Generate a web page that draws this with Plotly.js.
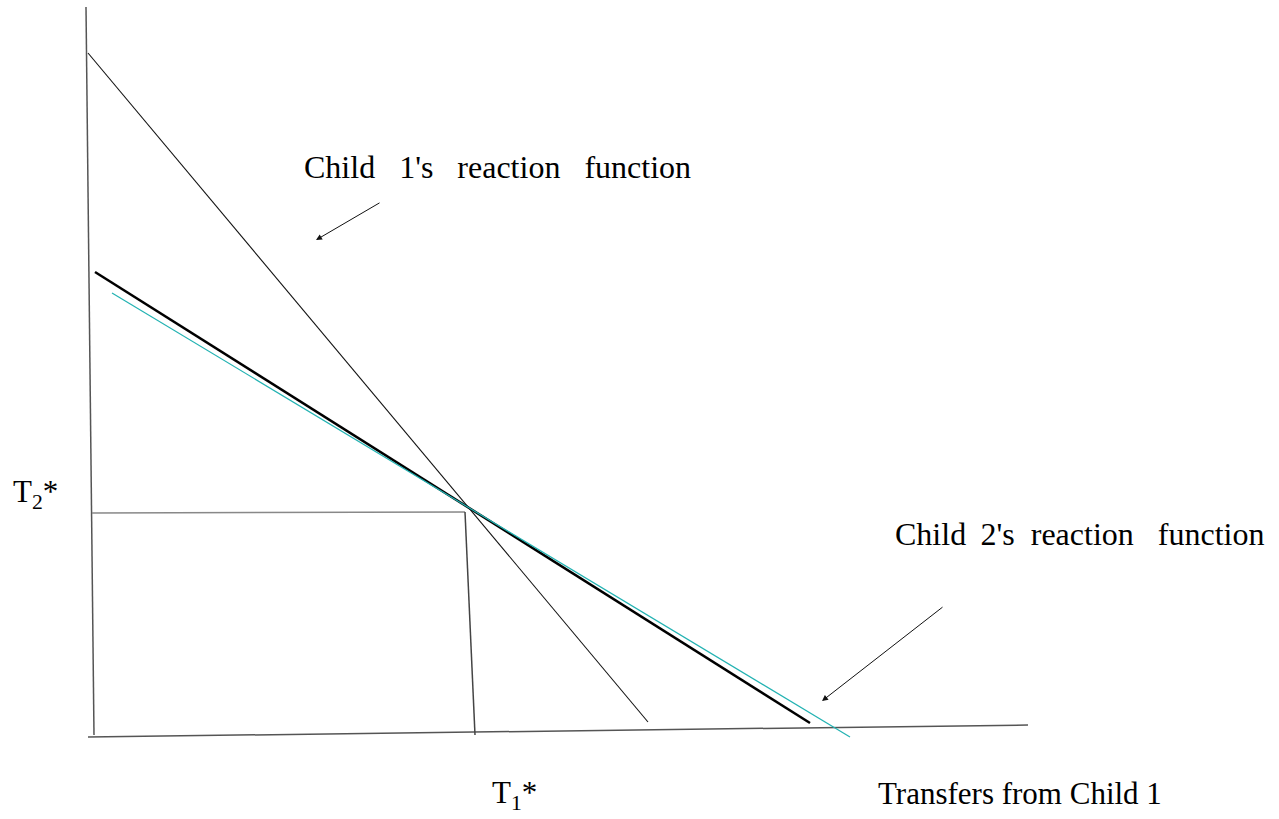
<!DOCTYPE html>
<html>
<head>
<meta charset="utf-8">
<script src="https://cdn.plot.ly/plotly-3.0.1.min.js"></script>
<style>html,body{margin:0;padding:0;background:#fff;}</style>
</head>
<body>
<div id="chart" style="width:1279px;height:819px;"></div>
<script>
// Diagram geometry (in the picture's own pixel-space coordinates)
var verticalAxisX = [86, 94];
var verticalAxisY = [7, 735];
var horizontalAxisX = [88, 1028];
var horizontalAxisY = [737, 725];
var child1X = [88, 648];
var child1Y = [53, 722];
var child2X = [95, 810];
var child2Y = [272, 723];
var child2AltX = [112, 850];
var child2AltY = [293, 737];
var t2LineX = [92, 465];
var t2LineY = [513, 512];
var t1LineX = [465, 475];
var t1LineY = [512, 735];

var labels = ["Child\u00a0\u00a0 1's\u00a0\u00a0 reaction\u00a0\u00a0 function",
              "Child\u2009 2's\u00a0 reaction\u00a0\u00a0 function",
              "T<sub>2</sub>*", "T<sub>1</sub>*", "Transfers from Child 1"];

function seg(x, y, color, width) {
  return {type: 'scatter', mode: 'lines', x: x, y: y, hoverinfo: 'skip',
          line: {color: color, width: width}, showlegend: false};
}

var traces = [
  seg(verticalAxisX, verticalAxisY, '#555', 1.5),
  seg(horizontalAxisX, horizontalAxisY, '#555', 1.5),
  seg(t2LineX, t2LineY, '#888', 1.5),
  seg(t1LineX, t1LineY, '#444', 1.5),
  seg(child1X, child1Y, '#111', 1.1),
  seg(child2X, child2Y, '#000', 2.5),
  seg(child2AltX, child2AltY, '#22b2b2', 1.2)
];

var family = 'Liberation Serif, Times New Roman, serif';
var font = {family: family, size: 31, color: '#000'};
var bigFont = {family: family, size: 32, color: '#000'};

var annotations = [
  {x: 302, y: 167, text: labels[0], xanchor: 'left', yanchor: 'middle', font: bigFont},
  {x: 893, y: 534, text: labels[1], xanchor: 'left', yanchor: 'middle', font: bigFont},
  {x: 11, y: 494, text: labels[2], xanchor: 'left', yanchor: 'middle'},
  {x: 490, y: 795, text: labels[3], xanchor: 'left', yanchor: 'middle'},
  {x: 876, y: 793, text: labels[4], xanchor: 'left', yanchor: 'middle'},
  {x: 316, y: 240, ax: 381, ay: 202, axref: 'x', ayref: 'y', text: '', showarrow: true,
   arrowhead: 2, arrowsize: 1.2, arrowwidth: 1, arrowcolor: '#111'},
  {x: 822, y: 701, ax: 944, ay: 606, axref: 'x', ayref: 'y', text: '', showarrow: true,
   arrowhead: 2, arrowsize: 1.2, arrowwidth: 1, arrowcolor: '#111'}
].map(function(a){ a.xref = 'x'; a.yref = 'y'; if (a.showarrow === undefined) a.showarrow = false; if (!a.font) a.font = font; return a; });

var layout = {
  width: 1279, height: 819,
  margin: {l: 0, r: 0, t: 0, b: 0},
  paper_bgcolor: '#fff', plot_bgcolor: '#fff',
  xaxis: {range: [0, 1279], visible: false, fixedrange: true},
  yaxis: {range: [819, 0], visible: false, fixedrange: true},
  annotations: annotations,
  showlegend: false
};

Plotly.newPlot('chart', traces, layout, {displayModeBar: false, staticPlot: true});
</script>
</body>
</html>
